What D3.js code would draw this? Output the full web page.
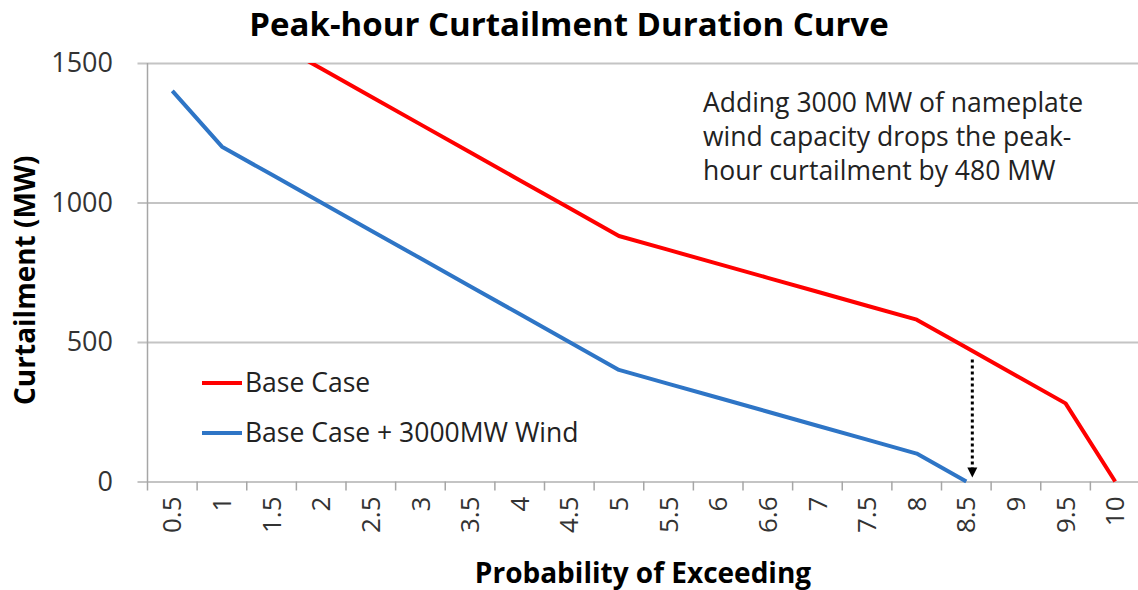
<!DOCTYPE html>
<html>
<head>
<meta charset="utf-8">
<script src="https://cdn.jsdelivr.net/npm/d3@7"></script>
<style>
  html, body { margin: 0; padding: 0; background: #ffffff; }
  svg { display: block; font-family: "Open Sans", "Noto Sans", sans-serif; }
</style>
</head>
<body>
<svg id="chart" width="1138" height="590"></svg>
<script>
// Probability-of-exceeding categories (the "6.6" label is kept as published)
const categories = ["0.5","1","1.5","2","2.5","3","3.5","4","4.5","5",
                    "5.5","6","6.6","7","7.5","8","8.5","9","9.5","10"];

// Peak-hour curtailment (MW) for each case
const baseCase = [null, null, 1580, 1480, 1380, 1280, 1180, 1080, 980, 880,
                  830, 780, 730, 680, 630, 580, 480, 380, 280, 0];
const windCase = [1400, 1200, 1100, 1000, 900, 800, 700, 600, 500, 400,
                  350, 300, 250, 200, 150, 100, 0, null, null, null];

const seriesNames = ["Base Case", "Base Case + 3000MW Wind"];
const yTicks = [0, 500, 1000, 1500];

const titleText = "Peak-hour Curtailment Duration Curve";
const xTitle = "Probability of Exceeding";
const yTitle = "Curtailment (MW)";
const noteLines = ["Adding 3000 MW of nameplate",
                   "wind capacity drops the peak-",
                   "hour curtailment by 480 MW"];
const dropAt = "8.5";

const colors = ["#ff0000", "#2e75c6"];
const gridColor = "#c4c4c4";

const svg = d3.select("#chart");
const plot = { left: 147.5, right: 1140, top: 63, bottom: 481.5 };

const x = d3.scaleBand().domain(categories).range([plot.left, plot.right]).padding(0);
const y = d3.scaleLinear().domain([0, 1500]).range([plot.bottom, plot.top]);
const cx = c => x(c) + x.bandwidth() / 2;

// Horizontal gridlines with short outer ticks on the value axis
const yAxis = d3.axisLeft(y).tickValues(yTicks).tickSize(-(plot.right - plot.left)).tickSizeOuter(0).tickFormat("");
const yg = svg.append("g").attr("transform", `translate(${plot.left},0)`).call(yAxis);
yg.select(".domain").remove();
yg.selectAll(".tick text").remove();
yg.selectAll(".tick line").attr("stroke", gridColor).attr("stroke-width", 2).attr("x1", -10);

// Value labels
svg.append("g").selectAll("text").data(yTicks).join("text")
  .attr("x", 113).attr("y", d => y(d)).attr("dy", "0.35em")
  .attr("text-anchor", "end").attr("font-size", 27).attr("fill", "#333")
  .text(d => d);

// Vertical axis line
svg.append("line").attr("x1", plot.left).attr("x2", plot.left).attr("y1", plot.top).attr("y2", plot.bottom + 9)
  .attr("stroke", "#a6a6a6").attr("stroke-width", 1.5);

// Category boundary ticks
svg.append("g").selectAll("line").data(categories.slice(1)).join("line")
  .attr("x1", d => x(d)).attr("x2", d => x(d))
  .attr("y1", plot.bottom).attr("y2", plot.bottom + 9)
  .attr("stroke", "#a6a6a6").attr("stroke-width", 1.5);

// Rotated category labels
svg.append("g").selectAll("text").data(categories).join("text")
  .attr("transform", d => `translate(${cx(d)},${plot.bottom + 15}) rotate(-90)`)
  .attr("text-anchor", "end").attr("dy", "0.35em")
  .attr("font-size", 26).attr("fill", "#333")
  .text(d => d);

// Clip the series to the plotting area
svg.append("clipPath").attr("id", "plot-clip")
  .append("rect").attr("x", plot.left).attr("y", plot.top)
  .attr("width", plot.right - plot.left).attr("height", plot.bottom - plot.top + 2);

const line = d3.line()
  .defined(d => d.v !== null)
  .x(d => cx(d.c))
  .y(d => y(d.v));

[baseCase, windCase].forEach((vals, i) => {
  svg.append("path")
    .datum(categories.map((c, k) => ({ c, v: vals[k] })))
    .attr("clip-path", "url(#plot-clip)")
    .attr("fill", "none")
    .attr("stroke", colors[i])
    .attr("stroke-width", 4)
    .attr("stroke-linejoin", "round")
    .attr("d", line);
});

// Dotted drop arrow between the two cases at 8.5
const k = categories.indexOf(dropAt);
const ax = cx(dropAt) + 6;
const arrowTop = y(baseCase[k]) + 12;
const arrowTip = y(windCase[k]) - 4;
svg.append("line")
  .attr("x1", ax).attr("x2", ax).attr("y1", arrowTop).attr("y2", arrowTip - 9)
  .attr("stroke", "#000").attr("stroke-width", 3).attr("stroke-dasharray", "3 3");
svg.append("path")
  .attr("d", `M${ax - 5},${arrowTip - 10} L${ax + 5},${arrowTip - 10} L${ax},${arrowTip} Z`)
  .attr("fill", "#000");

// Legend
const legend = svg.append("g");
seriesNames.forEach((name, i) => {
  const ly = 383 + i * 50;
  legend.append("line").attr("x1", 202).attr("x2", 242).attr("y1", ly).attr("y2", ly)
    .attr("stroke", colors[i]).attr("stroke-width", 4);
  legend.append("text").attr("x", 245).attr("y", ly).attr("dy", "0.35em")
    .attr("font-size", 26.5).attr("fill", "#222").text(name);
});

// Annotation
svg.append("g").selectAll("text").data(noteLines).join("text")
  .attr("x", 703).attr("y", (d, i) => 103 + i * 34).attr("dy", "0.35em")
  .attr("font-size", 26.5).attr("fill", "#222")
  .text(d => d);

// Titles
svg.append("text").attr("x", 569).attr("y", 36)
  .attr("text-anchor", "middle").attr("font-size", 33).attr("font-weight", "bold").attr("fill", "#000")
  .text(titleText);

svg.append("text").attr("x", 643).attr("y", 583)
  .attr("text-anchor", "middle").attr("font-size", 28).attr("font-weight", "bold").attr("fill", "#000")
  .text(xTitle);

svg.append("text").attr("transform", `translate(35,${(plot.top + plot.bottom) / 2 + 8}) rotate(-90)`)
  .attr("text-anchor", "middle").attr("font-size", 28).attr("font-weight", "bold").attr("fill", "#000")
  .text(yTitle);
</script>
</body>
</html>
